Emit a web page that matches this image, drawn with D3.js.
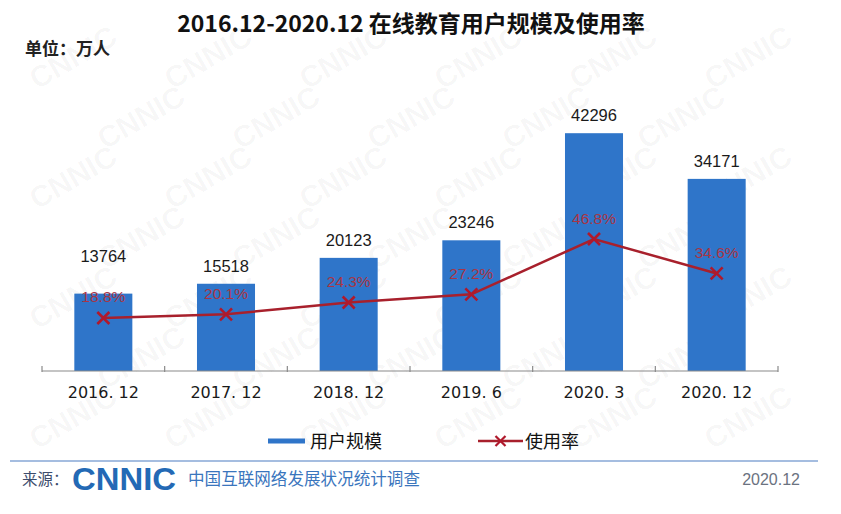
<!DOCTYPE html>
<html>
<head>
<meta charset="utf-8">
<script src="https://cdn.jsdelivr.net/npm/d3@7/dist/d3.min.js"></script>
<style>
  html, body { margin: 0; padding: 0; background: #fff; }
  svg { display: block; }
</style>
</head>
<body>
<svg id="chart" width="841" height="514"></svg>
<script>
const categories = ["2016. 12", "2017. 12", "2018. 12", "2019. 6", "2020. 3", "2020. 12"];
const users = [13764, 15518, 20123, 23246, 42296, 34171];
const rates = [18.8, 20.1, 24.3, 27.2, 46.8, 34.6];
const seriesNames = ["用户规模", "使用率"];
const titleText = "2016.12-2020.12 在线教育用户规模及使用率";
const unitText = "单位：万人";

const W = 841, H = 514;
const svg = d3.select("#chart");
const cjk = "'Noto Sans CJK SC', 'Noto Sans', sans-serif";
const num = "Arial, 'Liberation Sans', sans-serif";

// faint CNNIC watermarks (only those fully inside the picture)
const wm = svg.append("g").attr("fill", "#000").attr("fill-opacity", 0.04)
  .attr("font-family", num).attr("font-weight", "bold").attr("font-size", 30);
for (let r = 0; r < 10; r++) {
  for (let c = 0; c < 8; c++) {
    const wx = c * 135 + (r % 2) * 67 - 30;
    const wy = r * 60 + 30;
    const t = wm.append("text").attr("transform", `translate(${wx},${wy}) rotate(-30)`).text("CNNIC");
    const b = t.node().getBoundingClientRect();
    if (b.left < 2 || b.top < 2 || b.right > W - 2 || b.bottom > H - 2) t.remove();
  }
}

const x = d3.scaleBand().domain(categories).range([42, 778]).paddingInner(0.527).paddingOuter(0.2635);
const y = d3.scaleLinear().domain([0, 45000]).range([371, 118]);
const yr = d3.scaleLinear().domain([0, 100]).range([371, 89]);

const blue = "#2f75c9";
const red = "#a8202c";

// title
svg.append("text").attr("x", 411).attr("y", 32).attr("text-anchor", "middle")
  .attr("font-family", cjk).attr("font-weight", "bold").attr("font-size", 23)
  .attr("fill", "#111").text(titleText);
svg.append("text").attr("x", 25).attr("y", 55)
  .attr("font-family", cjk).attr("font-weight", "bold").attr("font-size", 17)
  .attr("fill", "#222").text(unitText);

// bars
svg.append("g").selectAll("rect").data(users).join("rect")
  .attr("x", (d, i) => x(categories[i]))
  .attr("y", d => y(d))
  .attr("width", x.bandwidth())
  .attr("height", d => y(0) - y(d))
  .attr("fill", blue);

// axis
const axis = svg.append("g").attr("transform", `translate(0,${y(0)})`);
axis.append("line").attr("x1", 42).attr("x2", 778).attr("stroke", "#8a8a8a").attr("stroke-width", 1.2);
const bounds = d3.range(categories.length + 1).map(i => 42 + i * x.step());
axis.selectAll("line.tk").data(bounds).join("line").attr("class", "tk")
  .attr("x1", d => d).attr("x2", d => d).attr("y1", -5).attr("y2", 1)
  .attr("stroke", "#8a8a8a").attr("stroke-width", 1.2);
axis.selectAll("text").data(categories).join("text")
  .attr("x", d => x(d) + x.bandwidth() / 2).attr("y", 27)
  .attr("text-anchor", "middle").attr("font-family", "'DejaVu Sans', " + num)
  .attr("font-size", 16).attr("fill", "#1a1a1a").text(d => d);

// line
const cx = (i) => x(categories[i]) + x.bandwidth() / 2;
const line = d3.line().x((d, i) => cx(i)).y(d => yr(d));
svg.append("path").datum(rates).attr("d", line).attr("fill", "none")
  .attr("stroke", red).attr("stroke-width", 2.5);
const m = 6;
const mk = svg.append("g");
rates.forEach((d, i) => {
  const px = cx(i), py = yr(d);
  mk.append("path").attr("d", `M${px - m},${py - m}L${px + m},${py + m}M${px - m},${py + m}L${px + m},${py - m}`)
    .attr("stroke", "#b0192c").attr("stroke-width", 2.6);
});

// rate labels
const rateCenter = rates.map(d => yr(d) - 21);
svg.append("g").selectAll("text").data(rates).join("text")
  .attr("x", (d, i) => cx(i)).attr("y", (d, i) => rateCenter[i] + 5.5)
  .attr("text-anchor", "middle").attr("font-family", num).attr("font-size", 15.5)
  .attr("fill", "#a83545").text(d => d.toFixed(1) + "%");

// value labels (moved above rate label when colliding)
const valCenter = users.map((d, i) => {
  let c = y(d) - 18;
  if (Math.abs(c - rateCenter[i]) < 22) c = rateCenter[i] - 41;
  return c;
});
svg.append("g").selectAll("text").data(users).join("text")
  .attr("x", (d, i) => cx(i)).attr("y", (d, i) => valCenter[i] + 6)
  .attr("text-anchor", "middle").attr("font-family", num).attr("font-size", 16.5)
  .attr("fill", "#1a1a1a").text(d => d);

// legend
const lg = svg.append("g");
lg.append("line").attr("x1", 268).attr("x2", 305).attr("y1", 441).attr("y2", 441)
  .attr("stroke", blue).attr("stroke-width", 5);
lg.append("text").attr("x", 310).attr("y", 448).attr("font-family", cjk).attr("font-size", 18)
  .attr("fill", "#111").text(seriesNames[0]);
lg.append("line").attr("x1", 478).attr("x2", 523).attr("y1", 441).attr("y2", 441)
  .attr("stroke", red).attr("stroke-width", 2.5);
lg.append("path").attr("d", `M${500.5 - 5},${436}L${500.5 + 5},${446}M${500.5 - 5},${446}L${500.5 + 5},${436}`)
  .attr("stroke", "#b0192c").attr("stroke-width", 2.2);
lg.append("text").attr("x", 525).attr("y", 448).attr("font-family", cjk).attr("font-size", 18)
  .attr("fill", "#111").text(seriesNames[1]);

// footer
svg.append("line").attr("x1", 10).attr("x2", 818).attr("y1", 461).attr("y2", 461)
  .attr("stroke", "#a5bde0").attr("stroke-width", 2);
svg.append("text").attr("x", 22).attr("y", 485).attr("font-family", cjk).attr("font-size", 15.5)
  .attr("fill", "#3d4d6d").text("来源：");
svg.append("text").attr("x", 72).attr("y", 490).attr("font-family", num).attr("font-weight", "bold")
  .attr("font-size", 32).attr("fill", "#2369b5").attr("textLength", 104).attr("lengthAdjust", "spacingAndGlyphs")
  .text("CNNIC");
svg.append("text").attr("x", 188).attr("y", 485).attr("font-family", cjk).attr("font-size", 16.5)
  .attr("fill", "#3a75bd").attr("textLength", 232).attr("lengthAdjust", "spacingAndGlyphs")
  .text("中国互联网络发展状况统计调查");
svg.append("text").attr("x", 800).attr("y", 485).attr("text-anchor", "end").attr("font-family", num)
  .attr("font-size", 16).attr("fill", "#6b7280").text("2020.12");
</script>
</body>
</html>
